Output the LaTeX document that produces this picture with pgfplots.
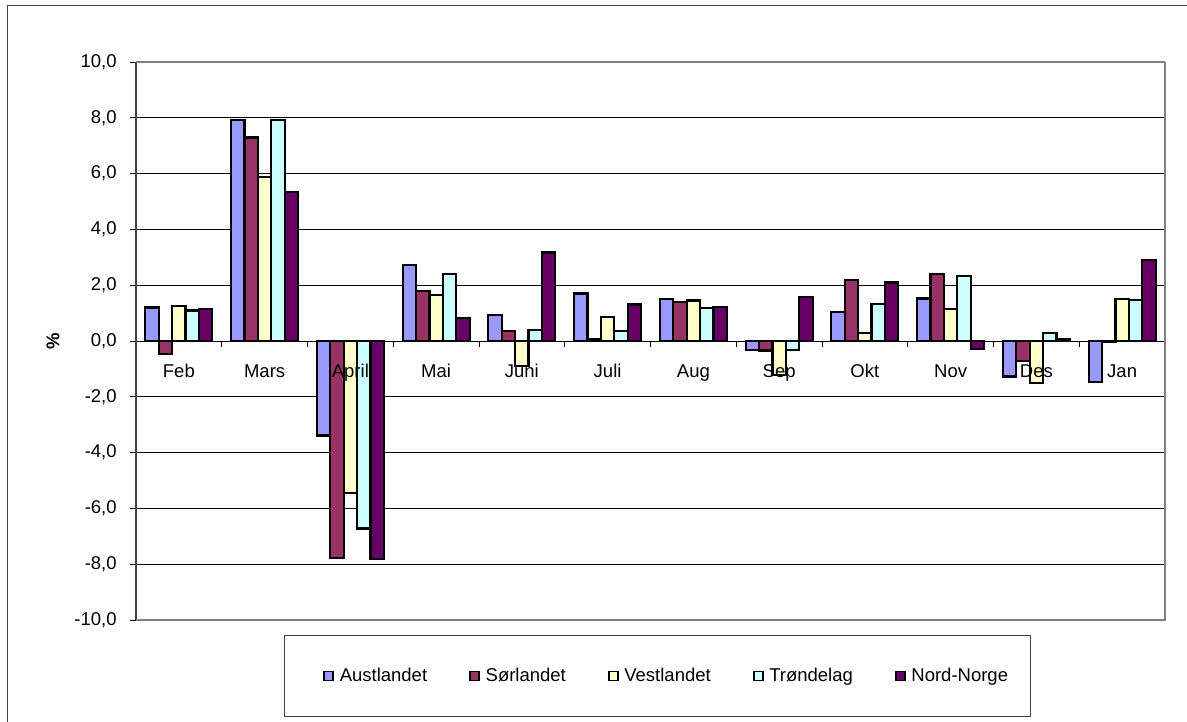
\documentclass[border=0pt]{standalone}
\usepackage{fontspec}
\setmainfont{Liberation Sans}
\usepackage{pgfplots}
\pgfplotsset{compat=1.18}
\definecolor{cA}{HTML}{9999FF}
\definecolor{cS}{HTML}{993366}
\definecolor{cV}{HTML}{FFFFCC}
\definecolor{cT}{HTML}{CCFFFF}
\definecolor{cN}{HTML}{660066}
\begin{document}
\fontsize{18.5}{22}\selectfont
\begin{tikzpicture}[x=1pt,y=1pt]
\path[use as bounding box] (0pt,0pt) rectangle (1187pt,722pt);
\draw[line width=1pt, black!75] (7pt,0pt) -- (7pt,716pt) -- (1187pt,716pt);
\draw[line width=1pt, black!75] (284pt,5pt) rectangle (1030pt,86pt);
\begin{axis}[
  at={(136pt,102pt)}, anchor=south west, scale only axis,
  width=1029pt, height=558pt,
  xmin=-0.5, xmax=11.5, ymin=-10, ymax=10,
  ytick={-10,-8,...,10},
  ytick pos=left,
  yticklabel={\pgfmathprintnumber[fixed,fixed zerofill,precision=1,use comma,assume math mode=true]{\tick}},
  /pgf/number format/assume math mode=true,
  xtick=\empty,
  ymajorgrids, major grid style={black, line width=0.8pt},
  y tick style={black, line width=0.8pt},
  tick align=outside, major tick length=6pt,
  yticklabel style={xshift=-7pt},
  axis line style={draw=none},
  ylabel={\textbf{\%}},
  ylabel style={at={(axis description cs:-0.0807,0.5)}, anchor=center},
  clip=false,
  legend columns=5,
  legend style={draw=none, fill=none, at={(axis description cs:0.5157,-0.1004)}, anchor=center,
    /tikz/every even column/.append style={column sep=40pt}},
  legend image code/.code={\draw[#1, line width=1.8pt] (0pt,-4.5pt) rectangle (9pt,4.5pt); \path (12.5pt,0pt);},
]
\addplot[ybar, bar width=0.15625, bar shift=-0.3125, fill=cA, draw=black, line width=2.2pt]
 coordinates {(0,1.20) (1,7.93) (2,-3.39) (3,2.72) (4,0.92) (5,1.70) (6,1.51) (7,-0.32) (8,1.04) (9,1.52) (10,-1.27) (11,-1.47)};
\addlegendentry{Austlandet}
\addplot[ybar, bar width=0.15625, bar shift=-0.15625, fill=cS, draw=black, line width=2.2pt]
 coordinates {(0,-0.48) (1,7.29) (2,-7.77) (3,1.78) (4,0.36) (5,0.05) (6,1.41) (7,-0.34) (8,2.19) (9,2.40) (10,-0.72) (11,-0.03)};
\addlegendentry{Sørlandet}
\addplot[ybar, bar width=0.15625, bar shift=0, fill=cV, draw=black, line width=2.2pt]
 coordinates {(0,1.26) (1,5.87) (2,-5.45) (3,1.66) (4,-0.91) (5,0.86) (6,1.45) (7,-1.23) (8,0.30) (9,1.15) (10,-1.51) (11,1.51)};
\addlegendentry{Vestlandet}
\addplot[ybar, bar width=0.15625, bar shift=0.15625, fill=cT, draw=black, line width=2.2pt]
 coordinates {(0,1.09) (1,7.93) (2,-6.72) (3,2.41) (4,0.38) (5,0.36) (6,1.17) (7,-0.31) (8,1.32) (9,2.32) (10,0.28) (11,1.47)};
\addlegendentry{Trøndelag}
\addplot[ybar, bar width=0.15625, bar shift=0.3125, fill=cN, draw=black, line width=2.2pt]
 coordinates {(0,1.14) (1,5.33) (2,-7.82) (3,0.81) (4,3.17) (5,1.31) (6,1.21) (7,1.58) (8,2.10) (9,-0.28) (10,0.05) (11,2.90)};
\addlegendentry{Nord-Norge}
\pgfplotsinvokeforeach{0.5,1.5,2.5,3.5,4.5,5.5,6.5,7.5,8.5,9.5,10.5}{
  \draw[black, line width=0.8pt] (axis cs:#1,0) -- ++(0pt,-6pt);
}
\node[anchor=base, yshift=-37pt] at (axis cs:0,0) {Feb};
\node[anchor=base, yshift=-37pt] at (axis cs:1,0) {Mars};
\node[anchor=base, yshift=-37pt] at (axis cs:2,0) {April};
\node[anchor=base, yshift=-37pt] at (axis cs:3,0) {Mai};
\node[anchor=base, yshift=-37pt] at (axis cs:4,0) {Juni};
\node[anchor=base, yshift=-37pt] at (axis cs:5,0) {Juli};
\node[anchor=base, yshift=-37pt] at (axis cs:6,0) {Aug};
\node[anchor=base, yshift=-37pt] at (axis cs:7,0) {Sep};
\node[anchor=base, yshift=-37pt] at (axis cs:8,0) {Okt};
\node[anchor=base, yshift=-37pt] at (axis cs:9,0) {Nov};
\node[anchor=base, yshift=-37pt] at (axis cs:10,0) {Des};
\node[anchor=base, yshift=-37pt] at (axis cs:11,0) {Jan};
\draw[black!75, line width=1.5pt] (rel axis cs:0,0) -- (rel axis cs:0,1);
\draw[gray, line width=2pt] (rel axis cs:0,1) -- (rel axis cs:1,1);
\draw[gray, line width=2.5pt] (rel axis cs:1,1) -- (rel axis cs:1,0) -- (rel axis cs:0,0);
\end{axis}
\end{tikzpicture}
\end{document}
